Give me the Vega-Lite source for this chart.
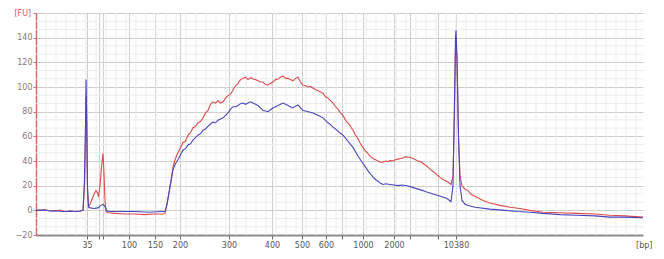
{
  "$schema": "https://vega.github.io/schema/vega-lite/v6.json",
  "width": 607,
  "height": 222,
  "autosize": {"type": "none"},
  "padding": {"left": 36, "top": 13, "right": 21, "bottom": 24},
  "background": "white",
  "config": {"view": {"stroke": null}, "font": "DejaVu Sans"},
  "datasets": {
    "minorX": [{"t":20},{"t":21},{"t":22},{"t":23},{"t":24},{"t":25},{"t":26},{"t":27},{"t":28},{"t":29},{"t":30},{"t":31},{"t":32},{"t":33},{"t":34},{"t":35},{"t":36},{"t":37},{"t":38},{"t":39},{"t":40},{"t":41},{"t":42},{"t":43},{"t":44},{"t":45},{"t":46},{"t":47},{"t":48},{"t":49},{"t":50},{"t":51},{"t":52},{"t":53},{"t":54},{"t":55},{"t":56},{"t":57},{"t":58},{"t":59},{"t":60},{"t":61},{"t":62},{"t":63},{"t":64},{"t":65},{"t":66},{"t":67},{"t":68},{"t":69},{"t":70},{"t":71},{"t":72},{"t":73},{"t":74},{"t":75},{"t":76},{"t":77},{"t":78},{"t":79}],
    "minorY": [{"fu":-13.33},{"fu":-6.67},{"fu":6.67},{"fu":13.33},{"fu":26.67},{"fu":33.33},{"fu":46.67},{"fu":53.33},{"fu":66.67},{"fu":73.33},{"fu":86.67},{"fu":93.33},{"fu":106.67},{"fu":113.33},{"fu":126.67},{"fu":133.33},{"fu":146.67},{"fu":153.33}],
    "trace": [
      {"s":"Sample 1","t":19.0,"fu":0},{"s":"Sample 1","t":19.9,"fu":0.5},{"s":"Sample 1","t":20.4,"fu":-0.3},{"s":"Sample 1","t":20.9,"fu":-0.5},{"s":"Sample 1","t":21.4,"fu":0.2},{"s":"Sample 1","t":21.9,"fu":-1},{"s":"Sample 1","t":22.4,"fu":-0.6},{"s":"Sample 1","t":22.9,"fu":-1},{"s":"Sample 1","t":23.4,"fu":-0.5},{"s":"Sample 1","t":23.7,"fu":0},{"s":"Sample 1","t":23.85,"fu":20},{"s":"Sample 1","t":23.95,"fu":60},{"s":"Sample 1","t":24.0,"fu":93},{"s":"Sample 1","t":24.08,"fu":60},{"s":"Sample 1","t":24.15,"fu":15},{"s":"Sample 1","t":24.25,"fu":3},{"s":"Sample 1","t":24.4,"fu":5},{"s":"Sample 1","t":24.6,"fu":9},{"s":"Sample 1","t":24.8,"fu":13},{"s":"Sample 1","t":25.0,"fu":16},{"s":"Sample 1","t":25.15,"fu":14},{"s":"Sample 1","t":25.25,"fu":11},{"s":"Sample 1","t":25.4,"fu":20},{"s":"Sample 1","t":25.55,"fu":35},{"s":"Sample 1","t":25.7,"fu":46},{"s":"Sample 1","t":25.8,"fu":30},{"s":"Sample 1","t":25.9,"fu":8},{"s":"Sample 1","t":26.0,"fu":-1},{"s":"Sample 1","t":26.2,"fu":-2},{"s":"Sample 1","t":26.9,"fu":-2.5},{"s":"Sample 1","t":27.9,"fu":-3},{"s":"Sample 1","t":28.9,"fu":-3},{"s":"Sample 1","t":29.9,"fu":-3.5},{"s":"Sample 1","t":30.9,"fu":-3},{"s":"Sample 1","t":31.7,"fu":-3},{"s":"Sample 1","t":31.9,"fu":-2.5},{"s":"Sample 1","t":32.1,"fu":5},{"s":"Sample 1","t":32.4,"fu":19},{"s":"Sample 1","t":32.7,"fu":35},{"s":"Sample 1","t":32.9,"fu":41},{"s":"Sample 1","t":33.1,"fu":45},{"s":"Sample 1","t":33.4,"fu":50},{"s":"Sample 1","t":33.7,"fu":55},{"s":"Sample 1","t":33.95,"fu":56},{"s":"Sample 1","t":34.2,"fu":61},{"s":"Sample 1","t":34.45,"fu":63},{"s":"Sample 1","t":34.7,"fu":67},{"s":"Sample 1","t":34.95,"fu":68},{"s":"Sample 1","t":35.2,"fu":71},{"s":"Sample 1","t":35.45,"fu":72},{"s":"Sample 1","t":35.7,"fu":75},{"s":"Sample 1","t":35.95,"fu":79},{"s":"Sample 1","t":36.2,"fu":81},{"s":"Sample 1","t":36.45,"fu":86},{"s":"Sample 1","t":36.7,"fu":88},{"s":"Sample 1","t":36.95,"fu":87},{"s":"Sample 1","t":37.2,"fu":89},{"s":"Sample 1","t":37.45,"fu":87},{"s":"Sample 1","t":37.7,"fu":88},{"s":"Sample 1","t":37.95,"fu":91},{"s":"Sample 1","t":38.2,"fu":93},{"s":"Sample 1","t":38.45,"fu":94},{"s":"Sample 1","t":38.7,"fu":97.5},{"s":"Sample 1","t":38.95,"fu":101},{"s":"Sample 1","t":39.2,"fu":103},{"s":"Sample 1","t":39.45,"fu":106},{"s":"Sample 1","t":39.7,"fu":107},{"s":"Sample 1","t":39.95,"fu":108},{"s":"Sample 1","t":40.2,"fu":106},{"s":"Sample 1","t":40.45,"fu":107.5},{"s":"Sample 1","t":40.7,"fu":106.5},{"s":"Sample 1","t":40.95,"fu":106},{"s":"Sample 1","t":41.2,"fu":105},{"s":"Sample 1","t":41.45,"fu":104},{"s":"Sample 1","t":41.7,"fu":104},{"s":"Sample 1","t":41.95,"fu":102},{"s":"Sample 1","t":42.2,"fu":101.6},{"s":"Sample 1","t":42.45,"fu":103},{"s":"Sample 1","t":42.7,"fu":104},{"s":"Sample 1","t":42.95,"fu":106},{"s":"Sample 1","t":43.2,"fu":106.5},{"s":"Sample 1","t":43.45,"fu":108},{"s":"Sample 1","t":43.7,"fu":109},{"s":"Sample 1","t":43.95,"fu":107},{"s":"Sample 1","t":44.2,"fu":107},{"s":"Sample 1","t":44.45,"fu":106},{"s":"Sample 1","t":44.7,"fu":105},{"s":"Sample 1","t":44.95,"fu":107},{"s":"Sample 1","t":45.2,"fu":108},{"s":"Sample 1","t":45.45,"fu":104},{"s":"Sample 1","t":45.7,"fu":101.6},{"s":"Sample 1","t":45.95,"fu":101},{"s":"Sample 1","t":46.2,"fu":100},{"s":"Sample 1","t":46.45,"fu":100.5},{"s":"Sample 1","t":46.7,"fu":99},{"s":"Sample 1","t":46.95,"fu":98},{"s":"Sample 1","t":47.2,"fu":97},{"s":"Sample 1","t":47.45,"fu":96},{"s":"Sample 1","t":47.7,"fu":95},{"s":"Sample 1","t":47.95,"fu":92},{"s":"Sample 1","t":48.2,"fu":91},{"s":"Sample 1","t":48.45,"fu":89},{"s":"Sample 1","t":48.7,"fu":87},{"s":"Sample 1","t":48.95,"fu":84},{"s":"Sample 1","t":49.2,"fu":82},{"s":"Sample 1","t":49.45,"fu":79},{"s":"Sample 1","t":49.7,"fu":77},{"s":"Sample 1","t":49.95,"fu":73},{"s":"Sample 1","t":50.2,"fu":71},{"s":"Sample 1","t":50.45,"fu":68},{"s":"Sample 1","t":50.7,"fu":65},{"s":"Sample 1","t":50.95,"fu":61},{"s":"Sample 1","t":51.2,"fu":58},{"s":"Sample 1","t":51.45,"fu":54},{"s":"Sample 1","t":51.7,"fu":51},{"s":"Sample 1","t":51.95,"fu":48},{"s":"Sample 1","t":52.2,"fu":46},{"s":"Sample 1","t":52.45,"fu":43.5},{"s":"Sample 1","t":52.7,"fu":42},{"s":"Sample 1","t":52.95,"fu":41},{"s":"Sample 1","t":53.2,"fu":40},{"s":"Sample 1","t":53.45,"fu":39},{"s":"Sample 1","t":53.7,"fu":39},{"s":"Sample 1","t":53.95,"fu":40},{"s":"Sample 1","t":54.2,"fu":39.5},{"s":"Sample 1","t":54.45,"fu":40.5},{"s":"Sample 1","t":54.7,"fu":40},{"s":"Sample 1","t":54.95,"fu":41},{"s":"Sample 1","t":55.2,"fu":41.5},{"s":"Sample 1","t":55.45,"fu":42},{"s":"Sample 1","t":55.7,"fu":42.5},{"s":"Sample 1","t":55.95,"fu":43.5},{"s":"Sample 1","t":56.2,"fu":43},{"s":"Sample 1","t":56.45,"fu":43},{"s":"Sample 1","t":56.7,"fu":42},{"s":"Sample 1","t":56.95,"fu":41},{"s":"Sample 1","t":57.2,"fu":40},{"s":"Sample 1","t":57.45,"fu":39.5},{"s":"Sample 1","t":57.7,"fu":38},{"s":"Sample 1","t":57.95,"fu":36.5},{"s":"Sample 1","t":58.2,"fu":35},{"s":"Sample 1","t":58.45,"fu":33},{"s":"Sample 1","t":58.7,"fu":31.5},{"s":"Sample 1","t":58.95,"fu":30},{"s":"Sample 1","t":59.2,"fu":28},{"s":"Sample 1","t":59.45,"fu":26.5},{"s":"Sample 1","t":59.7,"fu":25},{"s":"Sample 1","t":59.95,"fu":24},{"s":"Sample 1","t":60.2,"fu":23},{"s":"Sample 1","t":60.5,"fu":21},{"s":"Sample 1","t":60.7,"fu":28},{"s":"Sample 1","t":60.85,"fu":80},{"s":"Sample 1","t":60.95,"fu":130},{"s":"Sample 1","t":61.0,"fu":141},{"s":"Sample 1","t":61.1,"fu":120},{"s":"Sample 1","t":61.25,"fu":60},{"s":"Sample 1","t":61.4,"fu":28},{"s":"Sample 1","t":61.6,"fu":20},{"s":"Sample 1","t":61.9,"fu":17},{"s":"Sample 1","t":62.2,"fu":16},{"s":"Sample 1","t":62.5,"fu":13},{"s":"Sample 1","t":63.0,"fu":11},{"s":"Sample 1","t":63.7,"fu":8},{"s":"Sample 1","t":64.4,"fu":6},{"s":"Sample 1","t":65.4,"fu":4},{"s":"Sample 1","t":66.4,"fu":2.5},{"s":"Sample 1","t":67.4,"fu":1.5},{"s":"Sample 1","t":68.4,"fu":0},{"s":"Sample 1","t":69.7,"fu":-1.5},{"s":"Sample 1","t":71.4,"fu":-2},{"s":"Sample 1","t":73.1,"fu":-2.5},{"s":"Sample 1","t":74.9,"fu":-3},{"s":"Sample 1","t":76.4,"fu":-4},{"s":"Sample 1","t":77.9,"fu":-4.5},{"s":"Sample 1","t":79.7,"fu":-5.5},
      {"s":"Sample 2","t":19.0,"fu":0},{"s":"Sample 2","t":19.9,"fu":0.3},{"s":"Sample 2","t":20.4,"fu":-0.5},{"s":"Sample 2","t":20.9,"fu":-0.3},{"s":"Sample 2","t":21.4,"fu":-0.8},{"s":"Sample 2","t":21.9,"fu":-1},{"s":"Sample 2","t":22.4,"fu":-0.7},{"s":"Sample 2","t":22.9,"fu":-1},{"s":"Sample 2","t":23.4,"fu":-0.5},{"s":"Sample 2","t":23.7,"fu":0},{"s":"Sample 2","t":23.85,"fu":25},{"s":"Sample 2","t":23.95,"fu":70},{"s":"Sample 2","t":24.0,"fu":106},{"s":"Sample 2","t":24.08,"fu":70},{"s":"Sample 2","t":24.15,"fu":20},{"s":"Sample 2","t":24.25,"fu":3},{"s":"Sample 2","t":24.4,"fu":2},{"s":"Sample 2","t":24.8,"fu":1.5},{"s":"Sample 2","t":25.2,"fu":2},{"s":"Sample 2","t":25.5,"fu":4},{"s":"Sample 2","t":25.7,"fu":5},{"s":"Sample 2","t":25.9,"fu":3},{"s":"Sample 2","t":26.1,"fu":-0.5},{"s":"Sample 2","t":26.4,"fu":-1},{"s":"Sample 2","t":27.4,"fu":-1},{"s":"Sample 2","t":28.9,"fu":-1},{"s":"Sample 2","t":30.4,"fu":-1.5},{"s":"Sample 2","t":31.4,"fu":-1},{"s":"Sample 2","t":31.9,"fu":-1},{"s":"Sample 2","t":32.1,"fu":5},{"s":"Sample 2","t":32.4,"fu":19},{"s":"Sample 2","t":32.7,"fu":33},{"s":"Sample 2","t":32.95,"fu":38},{"s":"Sample 2","t":33.2,"fu":41},{"s":"Sample 2","t":33.45,"fu":45},{"s":"Sample 2","t":33.7,"fu":49},{"s":"Sample 2","t":33.95,"fu":50},{"s":"Sample 2","t":34.2,"fu":53},{"s":"Sample 2","t":34.45,"fu":54},{"s":"Sample 2","t":34.7,"fu":57},{"s":"Sample 2","t":34.95,"fu":59},{"s":"Sample 2","t":35.2,"fu":61},{"s":"Sample 2","t":35.45,"fu":62},{"s":"Sample 2","t":35.7,"fu":65},{"s":"Sample 2","t":35.95,"fu":66},{"s":"Sample 2","t":36.2,"fu":68},{"s":"Sample 2","t":36.45,"fu":70},{"s":"Sample 2","t":36.7,"fu":71.5},{"s":"Sample 2","t":36.95,"fu":71},{"s":"Sample 2","t":37.2,"fu":73},{"s":"Sample 2","t":37.45,"fu":74},{"s":"Sample 2","t":37.7,"fu":75},{"s":"Sample 2","t":37.95,"fu":77},{"s":"Sample 2","t":38.2,"fu":79},{"s":"Sample 2","t":38.45,"fu":82},{"s":"Sample 2","t":38.7,"fu":84},{"s":"Sample 2","t":38.95,"fu":84},{"s":"Sample 2","t":39.2,"fu":85},{"s":"Sample 2","t":39.45,"fu":86.5},{"s":"Sample 2","t":39.7,"fu":87},{"s":"Sample 2","t":39.95,"fu":86},{"s":"Sample 2","t":40.2,"fu":87},{"s":"Sample 2","t":40.45,"fu":88},{"s":"Sample 2","t":40.7,"fu":87},{"s":"Sample 2","t":40.95,"fu":86},{"s":"Sample 2","t":41.2,"fu":85},{"s":"Sample 2","t":41.45,"fu":83},{"s":"Sample 2","t":41.7,"fu":81},{"s":"Sample 2","t":41.95,"fu":80.5},{"s":"Sample 2","t":42.2,"fu":80},{"s":"Sample 2","t":42.45,"fu":81.5},{"s":"Sample 2","t":42.7,"fu":83},{"s":"Sample 2","t":42.95,"fu":84},{"s":"Sample 2","t":43.2,"fu":85},{"s":"Sample 2","t":43.45,"fu":86},{"s":"Sample 2","t":43.7,"fu":87},{"s":"Sample 2","t":43.95,"fu":86},{"s":"Sample 2","t":44.2,"fu":85},{"s":"Sample 2","t":44.45,"fu":84},{"s":"Sample 2","t":44.7,"fu":83},{"s":"Sample 2","t":44.95,"fu":84.5},{"s":"Sample 2","t":45.2,"fu":85.5},{"s":"Sample 2","t":45.45,"fu":83},{"s":"Sample 2","t":45.7,"fu":81},{"s":"Sample 2","t":45.95,"fu":80.5},{"s":"Sample 2","t":46.2,"fu":80},{"s":"Sample 2","t":46.45,"fu":79.5},{"s":"Sample 2","t":46.7,"fu":79},{"s":"Sample 2","t":46.95,"fu":78},{"s":"Sample 2","t":47.2,"fu":77},{"s":"Sample 2","t":47.45,"fu":76},{"s":"Sample 2","t":47.7,"fu":75},{"s":"Sample 2","t":47.95,"fu":73},{"s":"Sample 2","t":48.2,"fu":71},{"s":"Sample 2","t":48.45,"fu":69.5},{"s":"Sample 2","t":48.7,"fu":67.5},{"s":"Sample 2","t":48.95,"fu":66},{"s":"Sample 2","t":49.2,"fu":64},{"s":"Sample 2","t":49.45,"fu":62.5},{"s":"Sample 2","t":49.7,"fu":61},{"s":"Sample 2","t":49.95,"fu":58.5},{"s":"Sample 2","t":50.2,"fu":56},{"s":"Sample 2","t":50.45,"fu":53.5},{"s":"Sample 2","t":50.7,"fu":51},{"s":"Sample 2","t":50.95,"fu":47.5},{"s":"Sample 2","t":51.2,"fu":44},{"s":"Sample 2","t":51.45,"fu":41},{"s":"Sample 2","t":51.7,"fu":38},{"s":"Sample 2","t":51.95,"fu":35},{"s":"Sample 2","t":52.2,"fu":32},{"s":"Sample 2","t":52.45,"fu":29.5},{"s":"Sample 2","t":52.7,"fu":27},{"s":"Sample 2","t":52.95,"fu":25},{"s":"Sample 2","t":53.2,"fu":23.5},{"s":"Sample 2","t":53.45,"fu":22},{"s":"Sample 2","t":53.7,"fu":21},{"s":"Sample 2","t":54.0,"fu":21.5},{"s":"Sample 2","t":54.4,"fu":21},{"s":"Sample 2","t":54.8,"fu":20.5},{"s":"Sample 2","t":55.2,"fu":20},{"s":"Sample 2","t":55.6,"fu":20.5},{"s":"Sample 2","t":56.1,"fu":20},{"s":"Sample 2","t":56.5,"fu":19},{"s":"Sample 2","t":56.9,"fu":18},{"s":"Sample 2","t":57.3,"fu":17},{"s":"Sample 2","t":57.7,"fu":16},{"s":"Sample 2","t":58.0,"fu":15},{"s":"Sample 2","t":58.4,"fu":14},{"s":"Sample 2","t":58.8,"fu":13},{"s":"Sample 2","t":59.2,"fu":12},{"s":"Sample 2","t":59.6,"fu":11},{"s":"Sample 2","t":60.0,"fu":10},{"s":"Sample 2","t":60.2,"fu":9},{"s":"Sample 2","t":60.5,"fu":7},{"s":"Sample 2","t":60.7,"fu":20},{"s":"Sample 2","t":60.85,"fu":90},{"s":"Sample 2","t":60.95,"fu":140},{"s":"Sample 2","t":61.0,"fu":146},{"s":"Sample 2","t":61.1,"fu":125},{"s":"Sample 2","t":61.25,"fu":60},{"s":"Sample 2","t":61.4,"fu":20},{"s":"Sample 2","t":61.6,"fu":8},{"s":"Sample 2","t":61.9,"fu":5},{"s":"Sample 2","t":62.4,"fu":3.5},{"s":"Sample 2","t":62.9,"fu":2.5},{"s":"Sample 2","t":64.4,"fu":1},{"s":"Sample 2","t":65.9,"fu":0},{"s":"Sample 2","t":67.2,"fu":-1},{"s":"Sample 2","t":68.4,"fu":-1.5},{"s":"Sample 2","t":69.7,"fu":-2.5},{"s":"Sample 2","t":71.4,"fu":-3.5},{"s":"Sample 2","t":73.1,"fu":-4},{"s":"Sample 2","t":74.9,"fu":-4.5},{"s":"Sample 2","t":76.4,"fu":-5.5},{"s":"Sample 2","t":77.9,"fu":-5.5},{"s":"Sample 2","t":79.7,"fu":-6}
    ]
  },
  "layer": [
    {
      "data": {"name": "minorX"},
      "mark": {"type": "rule", "color": "#ebebeb", "strokeWidth": 1},
      "encoding": {
        "x": {"field": "t", "type": "quantitative", "scale": {"domain": [19, 79.7], "nice": false, "zero": false}}
      }
    },
    {
      "data": {"name": "minorY"},
      "mark": {"type": "rule", "color": "#ebebeb", "strokeWidth": 1},
      "encoding": {
        "y": {"field": "fu", "type": "quantitative", "scale": {"domain": [-20, 160], "nice": false, "zero": false}}
      }
    },
    {
      "data": {"name": "trace"},
      "mark": {"type": "line", "strokeWidth": 1.1, "interpolate": "linear"},
      "encoding": {
        "x": {
          "field": "t", "type": "quantitative",
          "scale": {"domain": [19, 79.7], "nice": false, "zero": false},
          "axis": {
            "values": [24.1, 25.3, 25.7, 28.3, 30.9, 33.4, 38.3, 42.6, 45.6, 48.0, 49.6, 51.7, 54.8, 56.4, 59.2, 61.0],
            "tickCount": 40,
            "labelExpr": "datum.value==24.1?'35':datum.value==28.3?'100':datum.value==30.9?'150':datum.value==33.4?'200':datum.value==38.3?'300':datum.value==42.6?'400':datum.value==45.6?'500':datum.value==48?'600':datum.value==51.7?'1000':datum.value==54.8?'2000':datum.value==61?'10380':''",
            "grid": true, "gridColor": "#cdcdcd", "gridWidth": 1,
            "domainColor": "#8a8a8a", "domainWidth": 2,
            "tickColor": "#666666", "tickSize": 4, "tickWidth": 1,
            "labelFontSize": 8, "labelColor": "#555555", "labelPadding": 2, "labelFlush": false, "labelOverlap": false,
            "title": "[bp]", "titleFontSize": 8, "titleFontWeight": "normal", "titleColor": "#555555",
            "titleAngle": 0, "titleX": 616, "titleY": 6, "titleAlign": "right", "titleBaseline": "top"
          }
        },
        "y": {
          "field": "fu", "type": "quantitative",
          "scale": {"domain": [-20, 160], "nice": false, "zero": false},
          "axis": {
            "values": [-20, 0, 20, 40, 60, 80, 100, 120, 140, 160],
            "tickCount": 20,
            "labelExpr": "datum.value==160?'':datum.label",
            "grid": true, "gridColor": "#cdcdcd", "gridWidth": 1,
            "domainColor": "#d86868", "domainWidth": 1.5,
            "tickColor": "#d86868", "tickSize": 3, "tickWidth": 1,
            "labelFontSize": 8, "labelColor": "#8a7474", "labelPadding": 1, "labelOverlap": false, "labelFlush": false,
            "title": "[FU]", "titleFontSize": 8, "titleFontWeight": "normal", "titleColor": "#d05858",
            "titleAngle": 0, "titleX": -22, "titleY": 0, "titleAlign": "left", "titleBaseline": "middle"
          }
        },
        "color": {"field": "s", "type": "nominal", "scale": {"domain": ["Sample 1", "Sample 2"], "range": ["#e04a4a", "#4646c0"]}, "legend": null},
        "order": {"field": "t", "type": "quantitative"}
      }
    }
  ]
}
